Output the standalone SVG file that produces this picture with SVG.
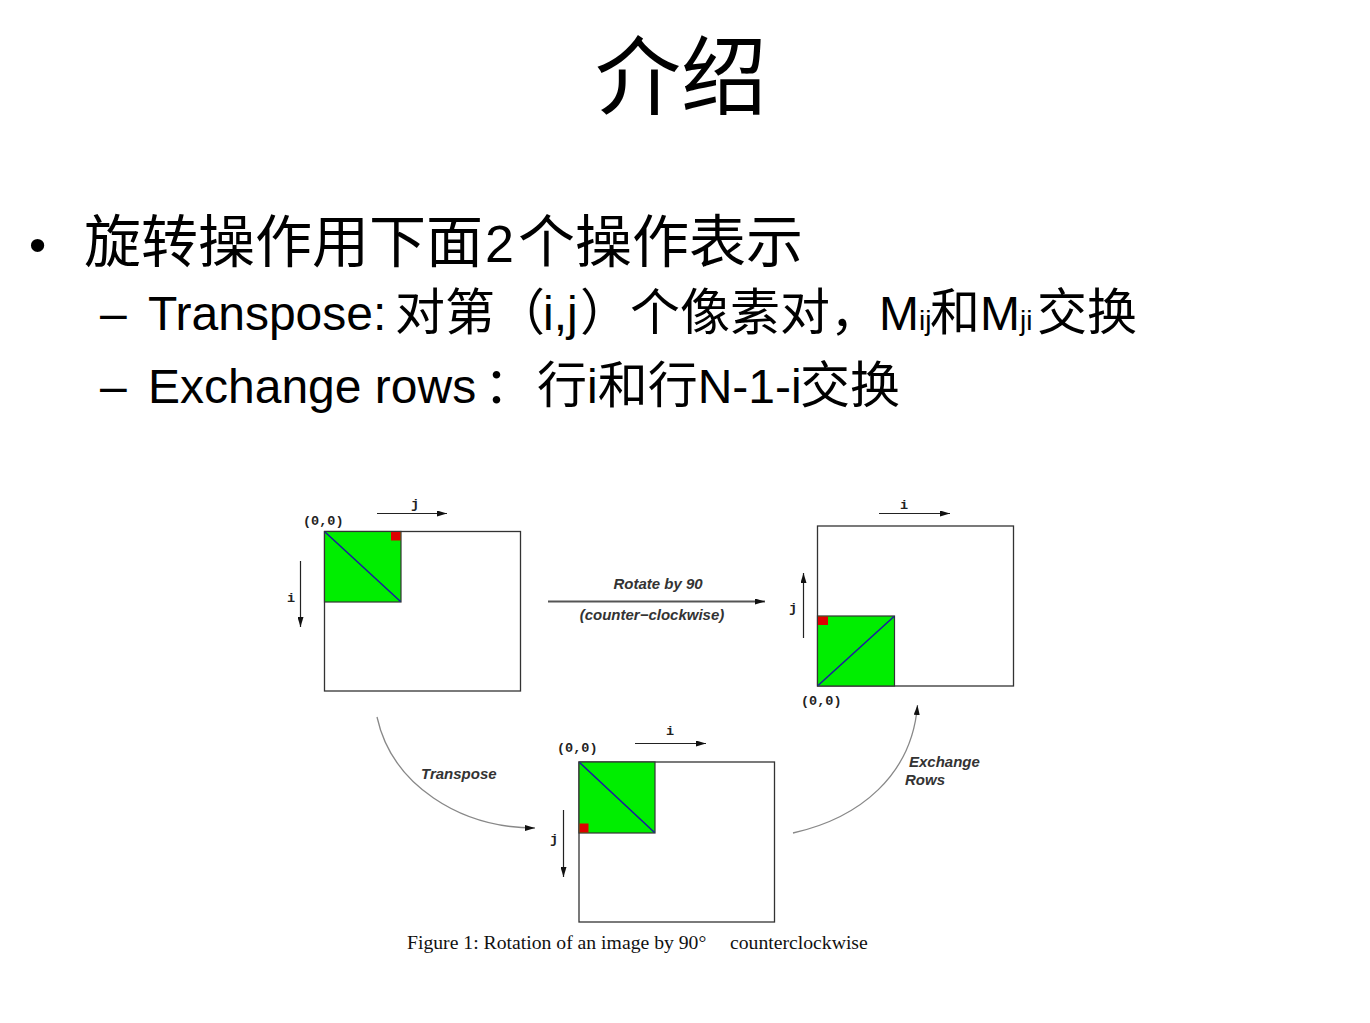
<svg xmlns="http://www.w3.org/2000/svg" width="1370" height="1023" viewBox="0 0 1370 1023">
  <style>
    .cjk { font-family: "Noto Sans CJK SC", sans-serif; }
    .lat { font-family: "Liberation Sans", "Noto Sans CJK SC", sans-serif; fill: #000; }
    .mono { font-family: "Liberation Mono", "DejaVu Sans Mono", monospace; font-size: 13.5px; font-weight: bold; fill: #222; }
    .lbl { font-family: "Liberation Sans", Arial, sans-serif; font-size: 15px; font-weight: bold; font-style: italic; fill: #333; }
    .cap { font-family: "Liberation Serif", "Times New Roman", serif; font-size: 19.7px; fill: #111; }
    .frame { fill: #fff; stroke: #333; stroke-width: 1.3; }
    .blk { fill: #00ee00; stroke: #333; stroke-width: 1.2; }
    .mark { fill: #dd0000; }
    .diag { stroke: #1c1ca0; stroke-width: 1.6; fill: none; }
    .axis { stroke: #222; stroke-width: 1.2; fill: none; marker-end: url(#head); }
    .flow { stroke: #888; stroke-width: 1.3; fill: none; marker-end: url(#head); }
    .flowdark { stroke: #555; stroke-width: 1.8; fill: none; marker-end: url(#head); }
  </style>
  <defs>
    <marker id="head" markerUnits="userSpaceOnUse" markerWidth="10" markerHeight="6" refX="10" refY="3" orient="auto">
      <path d="M0,0 L10,3 L0,6 z" fill="#111"/>
    </marker>
  </defs>

  <!-- heading -->
  <text class="cjk" x="681" y="108" font-size="86" text-anchor="middle">介绍</text>

  <!-- bullet list -->
  <text class="lat" x="29" y="261" font-size="49">•</text>
  <text class="lat" x="84" y="262" font-size="52"><tspan class="cjk" font-size="57">旋转操作用下面</tspan><tspan x="485">2</tspan><tspan class="cjk" x="518" font-size="57">个操作表示</tspan></text>

  <text class="lat" x="100" y="330" font-size="48">–</text>
  <text class="lat" x="148" y="330" font-size="48">Transpose:<tspan class="cjk" x="395" font-size="50">对第（</tspan><tspan x="543">i,j</tspan><tspan class="cjk" x="580" font-size="50">）个像素对，</tspan><tspan x="879">M</tspan><tspan font-size="28">ij</tspan><tspan class="cjk" x="930" font-size="50">和</tspan><tspan x="980">M</tspan><tspan font-size="28">ji</tspan><tspan class="cjk" x="1037" font-size="50">交换</tspan></text>

  <text class="lat" x="100" y="403" font-size="48">–</text>
  <text class="lat" x="148" y="403" font-size="48">Exchange rows<tspan class="cjk" x="484" font-size="50">：</tspan><tspan class="cjk" x="537" font-size="50">行</tspan><tspan>i</tspan><tspan class="cjk" font-size="50">和行</tspan><tspan>N-1-i</tspan><tspan class="cjk" x="800" font-size="50">交换</tspan></text>

  <!-- original image -->
  <g id="img-original">
    <rect class="frame" x="324.5" y="531.5" width="196" height="159.5"/>
    <rect class="blk" x="324.5" y="531.5" width="76.5" height="70.5"/>
    <rect class="mark" x="391" y="532" width="9.5" height="8.5"/>
    <line class="diag" x1="325" y1="532" x2="400.5" y2="601.5"/>
    <text class="mono" x="303" y="525">(0,0)</text>
    <text class="mono" x="411" y="508">j</text>
    <line class="axis" x1="377" y1="513.5" x2="447" y2="513.5"/>
    <text class="mono" x="287" y="602">i</text>
    <line class="axis" x1="300.5" y1="561" x2="300.5" y2="627"/>
  </g>

  <!-- rotated image -->
  <g id="img-rotated">
    <rect class="frame" x="817.5" y="526" width="196" height="160"/>
    <rect class="blk" x="817.5" y="616" width="77" height="70"/>
    <rect class="mark" x="818" y="616.5" width="10" height="8.5"/>
    <line class="diag" x1="818" y1="685.5" x2="894" y2="616.5"/>
    <text class="mono" x="801" y="705">(0,0)</text>
    <text class="mono" x="900" y="509">i</text>
    <line class="axis" x1="879" y1="513.5" x2="950" y2="513.5"/>
    <text class="mono" x="789" y="612">j</text>
    <line class="axis" x1="803.5" y1="638" x2="803.5" y2="573"/>
  </g>

  <!-- transposed image -->
  <g id="img-transposed">
    <rect class="frame" x="579" y="762" width="195.5" height="160"/>
    <rect class="blk" x="579" y="762" width="76" height="71"/>
    <rect class="mark" x="579.5" y="823.5" width="9" height="9"/>
    <line class="diag" x1="579.5" y1="762.5" x2="654.5" y2="832.5"/>
    <text class="mono" x="557" y="752">(0,0)</text>
    <text class="mono" x="666" y="735">i</text>
    <line class="axis" x1="635" y1="743.5" x2="706" y2="743.5"/>
    <text class="mono" x="550" y="843">j</text>
    <line class="axis" x1="563.5" y1="810" x2="563.5" y2="877"/>
  </g>

  <!-- transitions between the three states -->
  <g id="connectors">
    <line class="flowdark" x1="548" y1="601.5" x2="765" y2="601.5"/>
    <text class="lbl" x="658" y="589" text-anchor="middle">Rotate by 90</text>
    <text class="lbl" x="652" y="620" text-anchor="middle">(counter−clockwise)</text>

    <path class="flow" d="M377,717 C392,785 460,828 535,828"/>
    <text class="lbl" x="421" y="779">Transpose</text>

    <path class="flow" d="M793,833 C860,818 912,775 917.5,705"/>
    <text class="lbl" x="909" y="767">Exchange</text>
    <text class="lbl" x="905" y="785">Rows</text>
  </g>

  <!-- caption -->
  <text class="cap" x="407" y="949">Figure 1: Rotation of an image by 90°<tspan x="730">counterclockwise</tspan></text>
</svg>
